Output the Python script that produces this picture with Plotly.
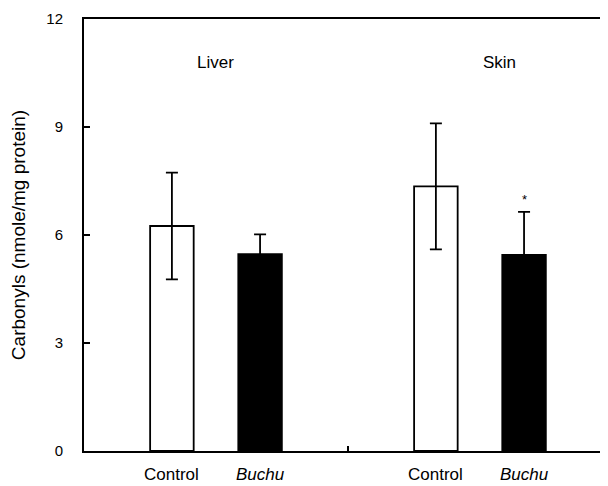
import plotly.graph_objects as go

groups = ["Liver", "Skin"]
treatments = ["Control", "<i>Buchu</i>"]
control_means = [6.25, 7.35]
control_sd = [1.48, 1.75]
buchu_means = [5.47, 5.45]
buchu_sd = [0.55, 1.19]
y_ticks = [0, 3, 6, 9, 12]

group_pos = [1, 2]
offset = 0.167
ctrl_x = [g - offset for g in group_pos]
buchu_x = [g + offset for g in group_pos]

FAM = "Liberation Sans, Arial, sans-serif"
font = dict(family=FAM, size=17, color="black")

fig = go.Figure()
fig.add_trace(go.Bar(
    x=ctrl_x, y=control_means, width=0.165,
    marker=dict(color="white", line=dict(color="black", width=1.8)),
    error_y=dict(type="data", array=control_sd, color="black", thickness=1.8, width=6),
    showlegend=False,
))
fig.add_trace(go.Bar(
    x=buchu_x, y=buchu_means, width=0.165,
    marker=dict(color="black", line=dict(color="black", width=1.8)),
    error_y=dict(type="data", array=buchu_sd, color="black", thickness=1.8, width=6),
    showlegend=False,
))

annotations = []
label_x = [1.0, 2.075]
for xpos, name in zip(label_x, groups):
    annotations.append(dict(x=xpos, y=10.8, text=name, showarrow=False,
                            xref="x", yref="y", font=font))
for cx, bx in zip(ctrl_x, buchu_x):
    annotations.append(dict(x=cx, y=0, text=treatments[0], showarrow=False,
                            xref="x", yref="y", yanchor="top", yshift=-12, font=font))
    annotations.append(dict(x=bx, y=0, text=treatments[1], showarrow=False,
                            xref="x", yref="y", yanchor="top", yshift=-12, font=font))
annotations.append(dict(x=buchu_x[1], y=7.06, text="*",
                        showarrow=False, xref="x", yref="y", yanchor="middle",
                        yshift=-3, font=dict(family=FAM, size=13, color="black")))

fig.update_layout(
    width=600, height=478,
    margin=dict(l=76, r=0, t=11, b=35),
    paper_bgcolor="white", plot_bgcolor="white",
    font=font,
    barmode="overlay",
    annotations=annotations,
    xaxis=dict(range=[0.5, 2.485], showgrid=False, zeroline=False,
               showline=True, linecolor="black", linewidth=2, mirror=True,
               tickvals=[1.5], ticktext=[""], ticks="inside", ticklen=5,
               tickcolor="black", tickwidth=1.5),
    yaxis=dict(range=[0, 12], tickvals=y_ticks, showgrid=False, zeroline=False,
               showline=True, linecolor="black", linewidth=2,
               ticks="inside", ticklen=6, tickcolor="black", tickwidth=1.5,
               ticklabelstandoff=16, tickfont=dict(family=FAM, size=15),
               title=dict(text="Carbonyls (nmole/mg protein)", standoff=16,
                          font=dict(family=FAM, size=19))),
)

fig.write_html("out.html")
